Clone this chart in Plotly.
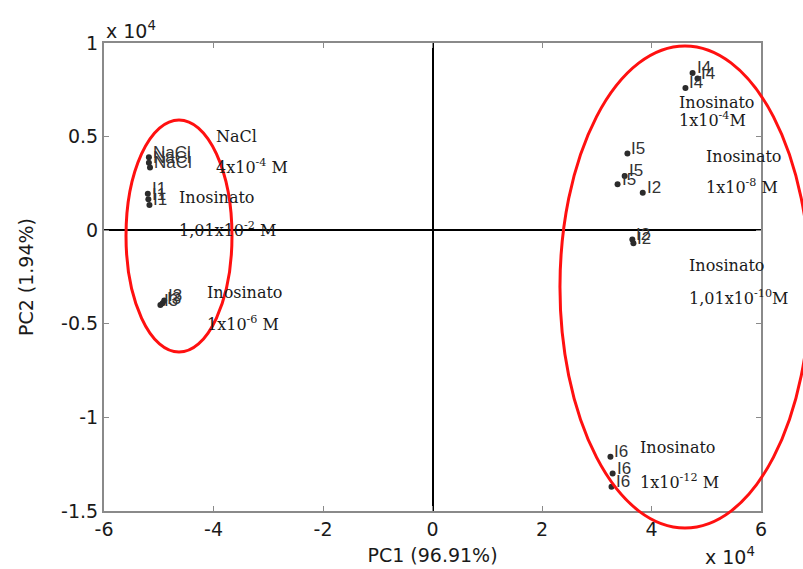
import plotly.graph_objects as go

# PCA scores (units of 1e4)
nacl_x = [-5.18, -5.18, -5.16]
nacl_y = [0.39, 0.36, 0.335]
i1_x = [-5.20, -5.19, -5.17]
i1_y = [0.195, 0.165, 0.135]
i3_x = [-4.97, -4.93, -4.90]
i3_y = [-0.40, -0.39, -0.375]
i4_x = [4.75, 4.84, 4.62]
i4_y = [0.84, 0.81, 0.76]
i5_x = [3.56, 3.51, 3.38]
i5_y = [0.41, 0.29, 0.245]
i2_x = [3.84, 3.65, 3.67]
i2_y = [0.20, -0.05, -0.07]
i6_x = [3.25, 3.29, 3.27]
i6_y = [-1.21, -1.30, -1.37]

groups = [
    ("NaCl", nacl_x, nacl_y),
    ("I1", i1_x, i1_y),
    ("I3", i3_x, i3_y),
    ("I4", i4_x, i4_y),
    ("I5", i5_x, i5_y),
    ("I2", i2_x, i2_y),
    ("I6", i6_x, i6_y),
]

# group descriptions: (line1, line2, x, y1, y2)
desc_labels = [
    ("NaCl", "4x10<sup>-4</sup> M", -4.0, 0.50, 0.34),
    ("Inosinato", "1,01x10<sup>-2</sup> M", -4.66, 0.177, 0.006),
    ("Inosinato", "1x10<sup>-6</sup> M", -4.15, -0.335, -0.50),
    ("Inosinato", "1x10<sup>-4</sup>M", 4.46, 0.68, 0.589),
    ("Inosinato", "1x10<sup>-8</sup> M", 4.95, 0.394, 0.231),
    ("Inosinato", "1,01x10<sup>-10</sup>M", 4.64, -0.186, -0.357),
    ("Inosinato", "1x10<sup>-12</sup> M", 3.75, -1.163, -1.34),
]

x_ticks = [-6, -4, -2, 0, 2, 4, 6]
x_ticktext = ["-6", "-4", "-2", "0", "2", "4", "6"]
y_ticks = [-1.5, -1, -0.5, 0, 0.5, 1]
y_ticktext = ["-1.5", "-1", "-0.5", "0", "0.5", "1"]

fig = go.Figure()

annotations = []
for name, xs, ys in groups:
    fig.add_trace(go.Scatter(
        x=xs, y=ys, mode="markers", name=name, showlegend=False,
        marker=dict(size=6, color="#2b2b2b"),
    ))
    for xv, yv in zip(xs, ys):
        annotations.append(dict(
            x=xv, y=yv, xref="x", yref="y", text=name, showarrow=False,
            xanchor="left", yanchor="middle", xshift=2, yshift=5,
            font=dict(family="Liberation Sans, Arial", size=17, color="#333333"),
        ))

serif = dict(family="DejaVu Serif", size=16, color="#1a1a1a")
for l1, l2, xv, y1, y2 in desc_labels:
    annotations.append(dict(x=xv, y=y1, xref="x", yref="y", text=l1, showarrow=False,
                            xanchor="left", yanchor="middle", font=serif))
    annotations.append(dict(x=xv, y=y2, xref="x", yref="y", text=l2, showarrow=False,
                            xanchor="left", yanchor="middle", font=serif))

axis_font = dict(family="DejaVu Sans", size=19, color="#1a1a1a")
annotations.append(dict(x=0.0, y=1.028, xref="paper", yref="paper",
                        text="x 10<sup>4</sup>", showarrow=False,
                        xanchor="left", yanchor="middle", font=axis_font))
annotations.append(dict(x=0.994, y=-0.097, xref="paper", yref="paper",
                        text="x 10<sup>4</sup>", showarrow=False,
                        xanchor="right", yanchor="middle", font=axis_font))

# cluster outlines
shapes = [
    dict(type="circle", xref="paper", yref="paper",
         x0=0.0335, x1=0.1948, y0=0.3397, y1=0.8355,
         line=dict(color="#ff1010", width=3)),
    dict(type="circle", xref="paper", yref="paper",
         x0=0.694, x1=1.0746, y0=-0.0363, y1=0.9936,
         line=dict(color="#ff1010", width=3)),
]

axis_common = dict(
    showline=True, mirror="ticks", linecolor="#8a8a8a", linewidth=2,
    ticks="inside", ticklen=5, tickcolor="#8a8a8a", tickwidth=1,
    showgrid=False, zeroline=True, zerolinecolor="#000000", zerolinewidth=1.5,
    tickfont=axis_font, automargin=False,
)

fig.update_layout(
    width=803, height=569,
    margin=dict(l=104, r=42, t=43, b=58),
    paper_bgcolor="white", plot_bgcolor="white",
    xaxis=dict(range=[-6, 6], tickvals=x_ticks, ticktext=x_ticktext,
               title=dict(text="PC1 (96.91%)", font=axis_font, standoff=10),
               **axis_common),
    yaxis=dict(range=[-1.5, 1], tickvals=y_ticks, ticktext=y_ticktext,
               title=dict(text="PC2 (1.94%)", font=axis_font, standoff=22),
               **axis_common),
    annotations=annotations,
    shapes=shapes,
)

fig.write_html("out.html")
